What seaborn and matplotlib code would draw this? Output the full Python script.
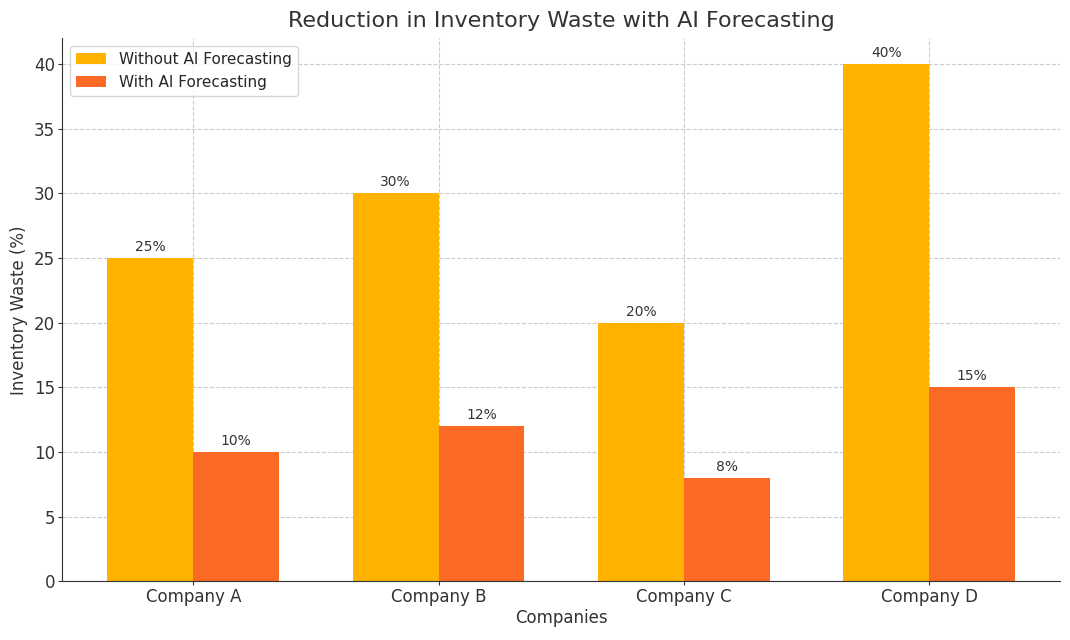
import pandas as pd
import seaborn as sns
import matplotlib.pyplot as plt

# datos
companies = ['Company A', 'Company B', 'Company C', 'Company D']
without_ai = [25, 30, 20, 40]
with_ai = [10, 12, 8, 15]
series = ['Without AI Forecasting', 'With AI Forecasting']
colors = ['#FFB300', '#FA6A24']

df = pd.DataFrame({
    'Company': companies * 2,
    'Waste': without_ai + with_ai,
    'Series': [series[0]] * len(companies) + [series[1]] * len(companies),
})

sns.set_style('white')
plt.rcParams['font.family'] = ['DejaVu Sans']

fig, ax = plt.subplots(figsize=(10.7, 6.4), dpi=100)
sns.barplot(data=df, x='Company', y='Waste', hue='Series', palette=colors,
            width=0.7, gap=0, saturation=1, linewidth=0, ax=ax)

for cont in ax.containers:
    ax.bar_label(cont, labels=[f'{v:.0f}%' for v in cont.datavalues],
                 padding=3, fontsize=10, color='#333333')

# margen por defecto de matplotlib (5%) en vez del de seaborn
n = len(companies)
ax.set_xlim(-0.35 - 0.05 * (n - 0.3), n - 1 + 0.35 + 0.05 * (n - 0.3))

ax.grid(True, linestyle='--', color='#cccccc', linewidth=0.8)
ax.set_axisbelow(True)
sns.despine(ax=ax)
ax.spines['left'].set_color('#333333')
ax.spines['bottom'].set_color('#333333')

ax.set_title('Reduction in Inventory Waste with AI Forecasting', fontsize=16,
             color='#333333', pad=8)
ax.set_xlabel('Companies', fontsize=12, color='#333333', labelpad=2)
ax.set_ylabel('Inventory Waste (%)', fontsize=12, color='#333333')
ax.tick_params(axis='both', labelsize=12, colors='#333333', length=3, pad=2,
               left=True, bottom=True)
ax.legend(title=None, loc='upper left', fontsize=11, frameon=True)

plt.subplots_adjust(left=0.058, right=0.991, top=0.94, bottom=0.092)
plt.savefig('out.png', dpi=100)
